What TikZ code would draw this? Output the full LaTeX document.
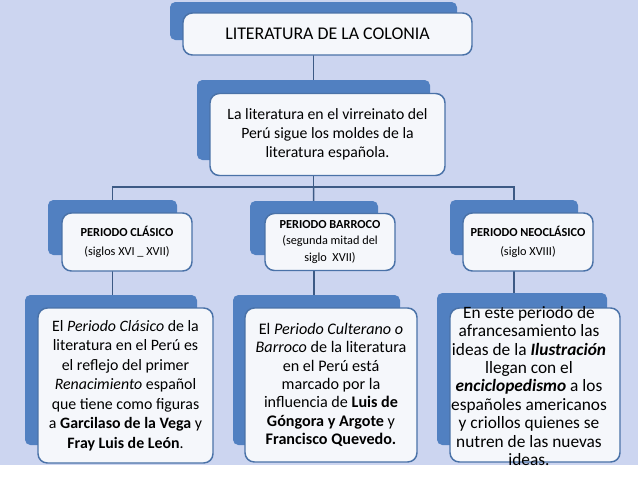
\documentclass[tikz,border=0pt]{standalone}
\usepackage{fontspec}
\setmainfont{Carlito}
\usetikzlibrary{backgrounds}
\definecolor{bgcol}{HTML}{CCD5F0}
\definecolor{backblue}{HTML}{5180C1}
\definecolor{frontline}{HTML}{4A72A8}
\definecolor{frontfill}{HTML}{F5F7FB}
\definecolor{linecol}{HTML}{3C5A85}
\tikzset{
  backbox/.style={rectangle, rounded corners=4pt, fill=backblue, inner sep=0pt},
  frontbox/.style={rectangle, rounded corners=7pt, draw=frontline, line width=1.1pt, fill=frontfill, inner sep=0pt, align=center, text=black},
  conn/.style={draw=linecol, line width=1.1pt},
  pertext/.style={font=\fontsize{9.2}{14.3}\selectfont}
}
\begin{document}
\begin{tikzpicture}[x=0.75pt,y=-0.75pt]
\useasboundingbox (0,0) rectangle (638,479);
% top
\node[backbox, minimum width=287*0.75pt, minimum height=38*0.75pt] (topb) at (313.5,21) {};
\node[frontbox, minimum width=289*0.75pt, minimum height=42*0.75pt, font=\fontsize{13.4}{16}\selectfont] (topf) at (327.5,34) {LITERATURA DE LA COLONIA};
% second
\node[backbox, minimum width=233*0.75pt, minimum height=80*0.75pt] (secb) at (313.5,120) {};
\node[frontbox, minimum width=235*0.75pt, minimum height=82*0.75pt, font=\fontsize{11.8}{14.3}\selectfont] (secf) at (327.5,134.5) {La literatura en el virreinato del\\Perú sigue los moldes de la\\literatura española.};
% level 3
\node[backbox, minimum width=129*0.75pt, minimum height=55*0.75pt] (lb) at (112.5,227.5) {};
\node[frontbox, minimum width=130*0.75pt, minimum height=58*0.75pt, pertext] (lf) at (127,242) {\textbf{PERIODO CLÁSICO}\\(siglos XVI \_ XVII)};
\node[backbox, minimum width=128*0.75pt, minimum height=54*0.75pt] (mb) at (314,228) {};
\node[frontbox, minimum width=130*0.75pt, minimum height=57*0.75pt, font=\fontsize{9.2}{12.4}\selectfont] (mf) at (330,242) {\textbf{PERIODO BARROCO}\\(segunda mitad del\\siglo\ \ XVII)};
\node[backbox, minimum width=128*0.75pt, minimum height=55*0.75pt] (rb) at (514,227.5) {};
\node[frontbox, minimum width=130*0.75pt, minimum height=58*0.75pt, pertext] (rf) at (528,242) {\textbf{PERIODO NEOCLÁSICO}\\(siglo XVIII)};
% bottom
\node[backbox, minimum width=172*0.75pt, minimum height=150*0.75pt] (blb) at (111,370) {};
\node[frontbox, minimum width=175*0.75pt, minimum height=155*0.75pt, font=\fontsize{11.9}{14.6}\selectfont] (blf) at (125.5,385.5) {El \textit{Periodo Clásico} de la\\literatura en el Perú es\\el reflejo del primer\\\textit{Renacimiento} español\\que tiene como figuras\\a \textbf{Garcilaso de la Vega} y\\\textbf{Fray Luis de León}.};
\node[backbox, minimum width=167*0.75pt, minimum height=150*0.75pt] (bmb) at (316.5,370) {};
\node[frontbox, minimum width=172*0.75pt, minimum height=154*0.75pt, font=\fontsize{12.1}{13.8}\selectfont] (bmf) at (331,385) {El \textit{Periodo Culterano o}\\\textit{Barroco} de la literatura\\en el Perú está\\marcado por la\\influencia de \textbf{Luis de}\\\textbf{Góngora y Argote} y\\\textbf{Francisco Quevedo.}};
\node[backbox, minimum width=170*0.75pt, minimum height=152*0.75pt] (brb) at (522,369) {};
\node[frontbox, minimum width=170*0.75pt, minimum height=154*0.75pt] (brf) at (535,385) {};
\node[align=center, inner sep=0pt, font=\fontsize{13}{13.8}\selectfont] (brt) at (529,386) {En este periodo de\\afrancesamiento las\\ideas de la \textbf{\textit{Ilustración}}\\llegan con el\\\textbf{\textit{enciclopedismo}} a los\\españoles americanos\\y criollos quienes se\\nutren de las nuevas\\ideas.};
\coordinate (bus) at (313.5,187);
\begin{pgfonlayer}{background}
\fill[bgcol] (0,0) rectangle (638,465);
\fill[white] (0,465) rectangle (638,479);
\draw[conn] (topb.center) -- (secb.center);
\draw[conn] (secb.center) -- (bus);
\draw[conn] (lb.center) |- (bus) -| (rb.center);
\draw[conn] (bus) -- (mb.center);
\draw[conn] (lb.center) -- (lb.center |- blb.center);
\draw[conn] (mb.center) -- (mb.center |- bmb.center);
\draw[conn] (rb.center) -- (rb.center |- brb.center);
\end{pgfonlayer}
\end{tikzpicture}
\end{document}
